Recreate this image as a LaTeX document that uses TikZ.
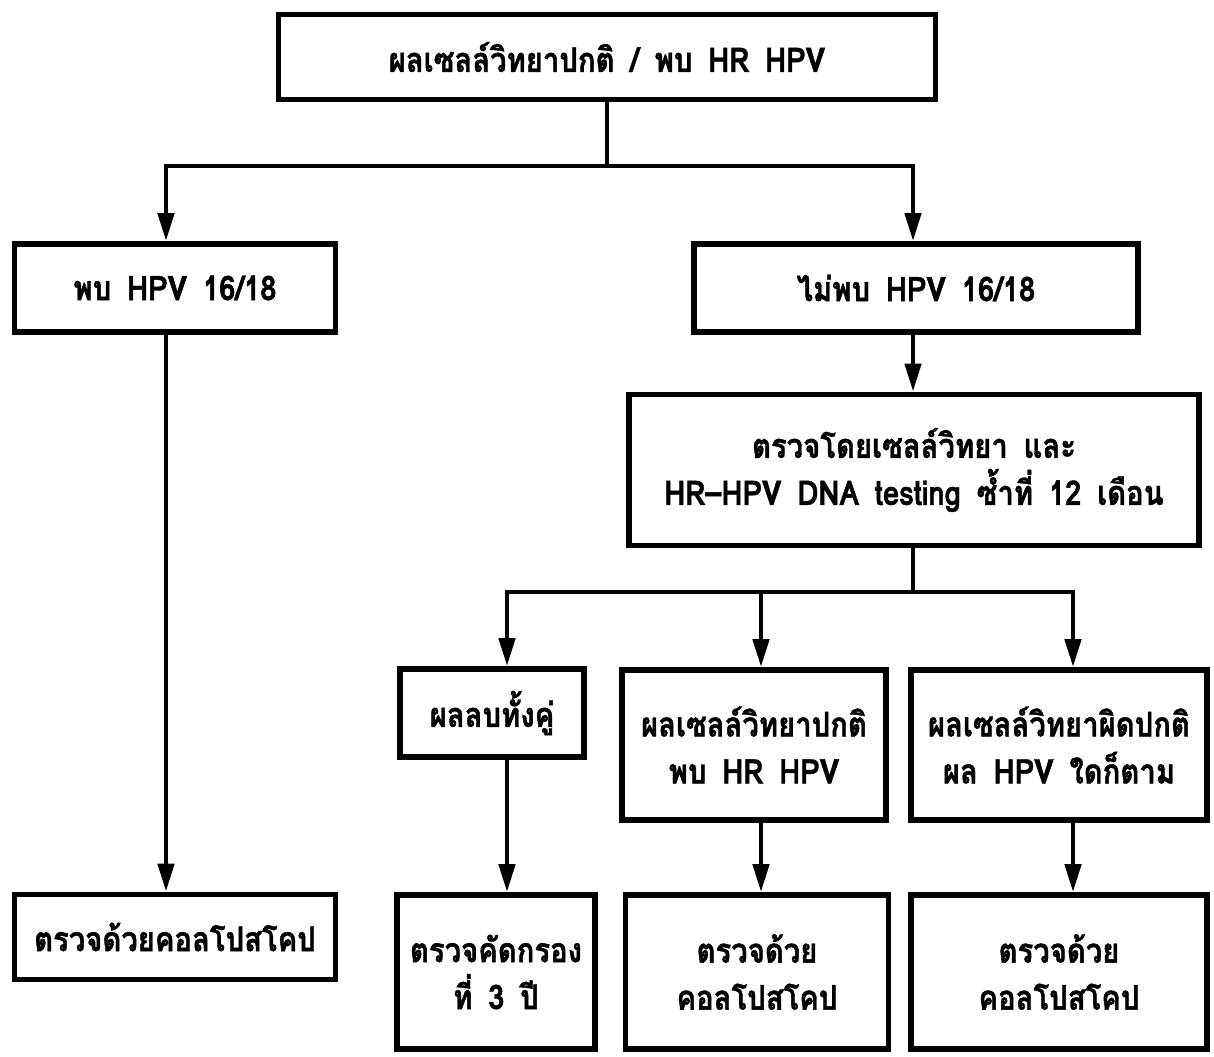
\documentclass[tikz,border=0pt]{standalone}
\usepackage{fontspec}
\setmainfont[Script=Thai,FakeStretch=0.86,WordSpace=1.6,BoldFeatures={FakeBold=1.2}]{Loma}
\usetikzlibrary{arrows.meta}
\begin{document}
\begin{tikzpicture}[x=0.5pt,y=-0.5pt,
  box/.style={draw,line width=2.9pt,align=center,inner sep=0pt,
    font=\fontsize{17}{23.5}\selectfont\bfseries},
  sz/.style 2 args={minimum width=#1*0.5pt,minimum height=#2*0.5pt},
  ln/.style={line width=2.3pt},
  arr/.style={ln,-{Triangle[length=14pt,width=8pt]}}]
\useasboundingbox (0,0) rectangle (1214,1056);
% boxes
\node[box,sz={657}{85}]  (top) at (607,57)   {ผลเซลล์วิทยาปกติ / พบ HR HPV};
\node[box,sz={321}{88}]  (l1)  at (175,288)  {พบ HPV 16/18};
\node[box,sz={444}{88}]  (r1)  at (916,288)  {ไม่พบ HPV 16/18};
\node[box,sz={570}{151}] (big) at (914,470)  {ตรวจโดยเซลล์วิทยา และ\\HR–HPV DNA testing ซ้ำที่ 12 เดือน};
\node[box,sz={184}{88}]  (a)   at (492,713)  {ผลลบทั้งคู่};
\node[box,sz={264}{150}] (b)   at (754,745)  {ผลเซลล์วิทยาปกติ\\พบ HR HPV};
\node[box,sz={296}{150}] (c)   at (1059,745) {ผลเซลล์วิทยาผิดปกติ\\ผล HPV ใดก็ตาม};
\node[box,sz={321}{85}]  (l2)  at (175,937)  {ตรวจด้วยคอลโปสโคป};
\node[box,sz={198}{154}] (la)  at (496,972)  {ตรวจคัดกรอง\\ที่ 3 ปี};
\node[box,sz={263}{154}] (lb)  at (757,972)  {ตรวจด้วย\\คอลโปสโคป};
\node[box,sz={296}{154}] (lc)  at (1059,972) {ตรวจด้วย\\คอลโปสโคป};
% connector columns and junctions
\coordinate (c1) at (166,0);
\coordinate (c2) at (913,0);
\coordinate (c3) at (507,0);
\coordinate (c4) at (761,0);
\coordinate (c5) at (1073,0);
\coordinate (j1) at (607,166);
\coordinate (j2) at (913,592);
% connectors
\draw[ln] (top.south) -- (j1);
\draw[arr] (j1) -| (l1.north -| c1);
\draw[arr] (j1) -| (r1.north -| c2);
\draw[arr] (l1.south -| c1) -- (l2.north -| c1);
\draw[arr] (r1.south -| c2) -- (big.north -| c2);
\draw[ln] (big.south -| c2) -- (j2);
\draw[arr] (j2) -| (a.north -| c3);
\draw[arr] (j2) -| (c.north -| c5);
\draw[arr] (j2 -| c4) -- (b.north -| c4);
\draw[arr] (a.south -| c3) -- (la.north -| c3);
\draw[arr] (b.south -| c4) -- (lb.north -| c4);
\draw[arr] (c.south -| c5) -- (lc.north -| c5);
\end{tikzpicture}
\end{document}
